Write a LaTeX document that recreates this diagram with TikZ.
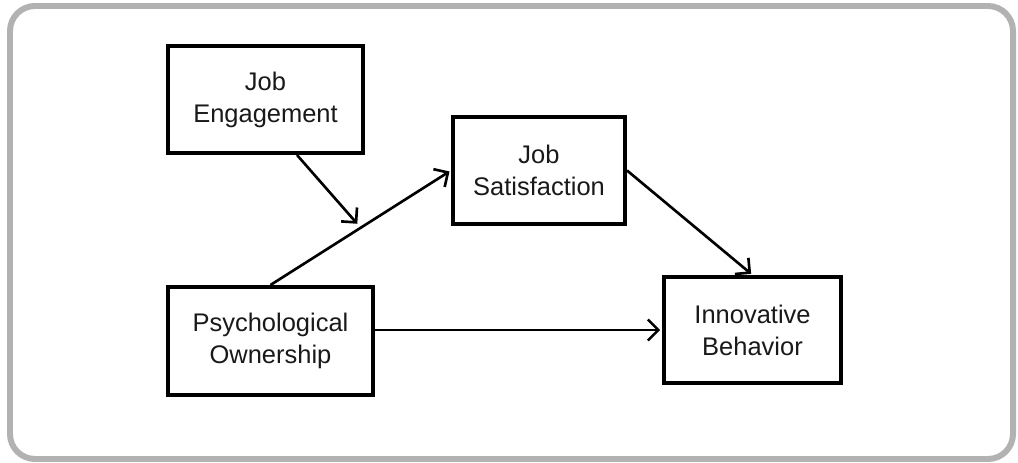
\documentclass[tikz,border=0pt]{standalone}
\usepackage{fontspec}
\setmainfont{Liberation Sans}
\usetikzlibrary{arrows.meta,calc,positioning}

\begin{document}
\begin{tikzpicture}[->,>={Straight Barb[length=6pt,width=12pt]},shorten >=1pt,auto,
	line width=1.5pt,
	var/.style={draw, line width=2.3pt, -, align=center, text=black!90,
		font=\fontsize{14.5}{18.2}\selectfont, inner sep=0pt}]
	\useasboundingbox (0,0) rectangle (20.36,9.24);
	\draw[-, line width=3.4pt, black!30, rounded corners=0.5cm] (0.2,0.06) rectangle (20.26,9.12);
	
	\node[var, minimum width=3.9cm, minimum height=2.14cm] (je) at (5.31,7.25) {Job\\Engagement};
	\node[var, minimum width=3.44cm, minimum height=2.14cm] (js) at (10.78,5.83) {Job\\Satisfaction};
	\node[var, minimum width=4.1cm, minimum height=2.16cm] (po) at (5.41,2.42) {Psychological\\Ownership};
	\node[var, minimum width=3.54cm, minimum height=2.12cm] (ib) at (15.05,2.64) {Innovative\\Behavior};
	\coordinate (mod) at ($(po.north)!0.5!(js.west)$);
	
	\path (po.north) edge (js.west);
	\path ([xshift=0.63cm]je.south) edge [shorten >=3pt] (mod);
	\path (js.east) edge (ib.north);
	\path (po.east |- ib.west) edge (ib.west);
\end{tikzpicture}
\end{document}
